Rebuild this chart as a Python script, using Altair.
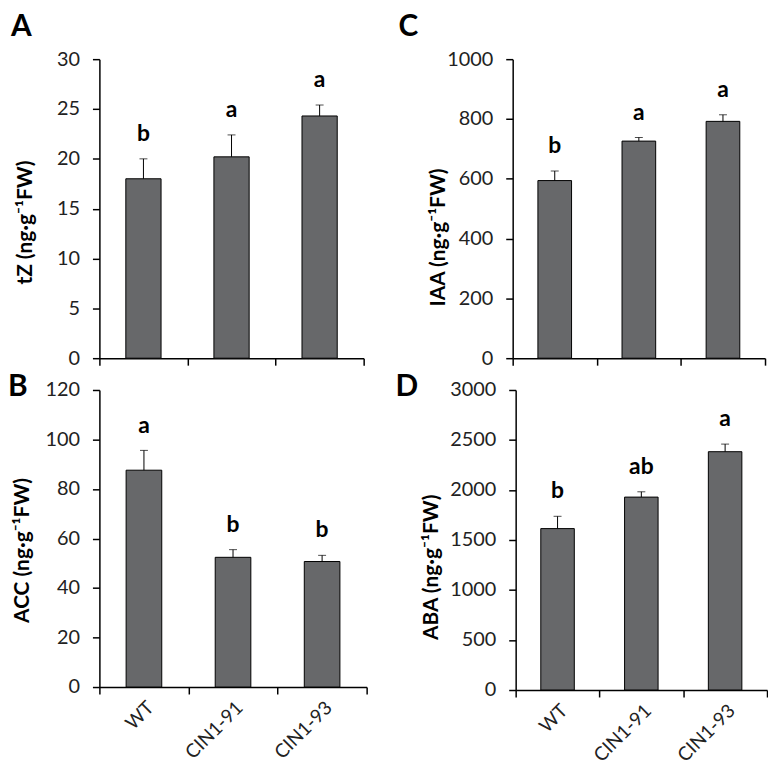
import altair as alt
import pandas as pd

genotypes = ["WT", "CIN1-91", "CIN1-93"]

tz_mean = [18.0, 20.2, 24.3]
tz_err = [2.0, 2.2, 1.1]
tz_sig = ["b", "a", "a"]

iaa_mean = [594, 726, 792]
iaa_err = [32, 12, 22]
iaa_sig = ["b", "a", "a"]

acc_mean = [87.6, 52.4, 50.7]
acc_err = [8.0, 3.1, 2.5]
acc_sig = ["a", "b", "b"]

aba_mean = [1614, 1929, 2383]
aba_err = [123, 53, 76]
aba_sig = ["b", "ab", "a"]

FONT = "Lato"


def panel(letter, mean, err, sig, ytitle, ymax, ystep, width, height,
          show_labels, letter_x, letter_y, title_x, title_y):
    df = pd.DataFrame({
        "g": genotypes,
        "mean": mean,
        "top": [m + e for m, e in zip(mean, err)],
        "sig": sig,
    })
    x = alt.X(
        "g:N", sort=genotypes,
        scale=alt.Scale(paddingInner=0, paddingOuter=0),
        axis=alt.Axis(
            title=None, labels=show_labels, labelAngle=-45, tickBand="extent",
            labelFontSize=19, labelFont=FONT, labelColor="#222", labelPadding=4,
        ),
    )
    y = alt.Y(
        "mean:Q",
        scale=alt.Scale(domain=[0, ymax], nice=False, zero=True),
        axis=alt.Axis(
            title=ytitle, values=list(range(0, ymax + 1, ystep)), format="d",
            labelFontSize=20, labelFont=FONT, labelColor="#222", labelPadding=13,
            titleFont=FONT, titleFontSize=21, titleFontWeight="bold",
            titleColor="black", titleX=title_x, titleY=title_y,
        ),
    )
    base = alt.Chart(df)
    bars = base.mark_bar(
        width=alt.RelativeBandSize(0.4), fill="#67686a", stroke="black", strokeWidth=1
    ).encode(x=x, y=y)
    rule = base.mark_rule(color="black", strokeWidth=1).encode(
        x=alt.X("g:N", sort=genotypes), y="mean:Q", y2="top:Q")
    cap = base.mark_tick(color="black", size=8, thickness=1).encode(
        x=alt.X("g:N", sort=genotypes), y="top:Q")
    sigtxt = base.mark_text(
        dy=-25, fontSize=23, fontWeight="bold", font=FONT, baseline="middle", color="black"
    ).encode(x=alt.X("g:N", sort=genotypes), y="top:Q", text="sig:N")
    lab = alt.Chart(pd.DataFrame({"t": [letter]})).mark_text(
        align="left", baseline="alphabetic", fontSize=30, fontWeight="bold",
        font=FONT, color="black"
    ).encode(x=alt.value(letter_x), y=alt.value(letter_y), text="t:N")
    return alt.layer(bars, rule, cap, sigtxt, lab).properties(width=width, height=height)


pA = panel("A", tz_mean, tz_err, tz_sig, "tZ (ng·g⁻¹FW)", 30, 5, 266, 301,
           False, -89, -23, -64, 164)
pC = panel("C", iaa_mean, iaa_err, iaa_sig, "IAA (ng·g⁻¹FW)", 1000, 200, 254, 301,
           False, -115, -23, -65, 179)
pB = panel("B", acc_mean, acc_err, acc_sig, "ACC (ng·g⁻¹FW)", 120, 20, 269, 299,
           True, -92, 6, -67, 161)
pD = panel("D", aba_mean, aba_err, aba_sig, "ABA (ng·g⁻¹FW)", 3000, 500, 253, 302,
           True, -121, 6, -75, 178)

row1 = alt.hconcat(pA, pC, spacing=34)
row2 = alt.hconcat(pB, pD, spacing=28)

chart = alt.vconcat(row1, row2, spacing=4).properties(
    padding={"left": 0, "top": 2, "right": 0, "bottom": 0}
).configure_view(
    stroke=None
).configure_axis(
    grid=False, domainColor="black", domainWidth=1.5, tickColor="black",
    tickWidth=1.5, tickSize=7,
)

chart.save("out.html", embed_options={"renderer": "svg", "actions": False})
